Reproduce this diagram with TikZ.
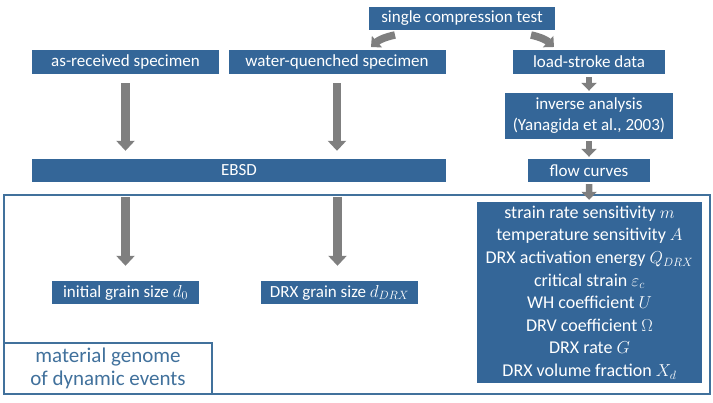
\documentclass[tikz,border=0pt]{standalone}
\usepackage{amsmath,amssymb}
\usepackage{fontspec}
\setmainfont{Carlito}
\usepackage{tikz}
\usetikzlibrary{positioning}
\usetikzlibrary{calc}
\usetikzlibrary{arrows.meta}
\definecolor{boxblue}{RGB}{52,102,152}
\definecolor{lineblue}{RGB}{65,113,156}
\definecolor{arrowgray}{RGB}{127,127,127}

\begin{document}
\begin{tikzpicture}[x=1pt, y=-1pt,
    font=\fontsize{17}{20}\selectfont,
    bluebox/.style={fill=boxblue, text=white, inner sep=0pt, align=center},
    bigarrow/.style={draw=arrowgray, line width=8.5pt,
        -{Triangle[width=18pt,length=10pt]}},
    smallarrow/.style={draw=arrowgray, line width=6.5pt,
        -{Triangle[width=15pt,length=8pt]}}]
    \useasboundingbox (0,0) rectangle (713,403);

    % outer frame of the genome
    \draw[lineblue, line width=1.6pt] (4,195) rectangle (710,394);

    \node[bluebox, minimum width=186pt, minimum height=23pt]
        (test) at (462,18.5) {single compression test};

    \node[bluebox, minimum width=187pt, minimum height=24pt]
        (asrec) at (125.5,62) {as-received specimen};
    \node[bluebox, minimum width=217pt, minimum height=24pt]
        (waterq) at (337,62) {water-quenched specimen};
    \node[bluebox, minimum width=152pt, minimum height=24pt]
        (load) at (589,62) {load-stroke data};

    \node[bluebox, minimum width=168pt, minimum height=46pt,
        font=\fontsize{17}{21}\selectfont]
        (inverse) at (589,116) {inverse analysis\\(Yanagida et al., 2003)};

    \node[bluebox, minimum width=414pt, minimum height=23pt]
        (ebsd) at (239,170.5) {EBSD};
    \node[bluebox, minimum width=122pt, minimum height=23pt]
        (flow) at (589,170.5) {flow curves};

    \node[bluebox, minimum width=147pt, minimum height=23pt]
        (dzero) at (125.5,292.5) {initial grain size $d_0$};
    \node[bluebox, minimum width=157pt, minimum height=23pt]
        (ddrx) at (339.5,292.5) {DRX grain size $d_{DRX}$};

    \node[bluebox, minimum width=225pt, minimum height=181pt,
        font=\fontsize{18}{22.6}\selectfont]
        (params) at (589.5,292.5) {strain rate sensitivity $m$\\
        temperature sensitivity $A$\\
        DRX activation energy $Q_{DRX}$\\
        critical strain $\varepsilon_c$\\
        WH coefficient $U$\\
        DRV coefficient $\Omega$\\
        DRX rate $G$\\
        DRX volume fraction $X_d$};

    \node[draw=lineblue, line width=1.6pt, fill=white, text=lineblue,
        align=center, inner sep=0pt, minimum width=208pt, minimum height=51pt,
        font=\fontsize{21}{23}\selectfont]
        (genome) at (108,368.5) {material genome\\of dynamic events};

    % arrows
    \coordinate (L1) at (395,35);
    \coordinate (L2) at (371,47);
    \coordinate (R1) at (531,35);
    \coordinate (R2) at (554,47);
    \draw[smallarrow, line width=7.5pt] (L1) to[bend right=15] (L2);
    \draw[smallarrow, line width=7.5pt] (R1) to[bend left=15] (R2);

    \draw[bigarrow, shorten <=9pt, shorten >=8pt] (asrec) -- (asrec |- ebsd.north);
    \draw[bigarrow, shorten <=9pt, shorten >=8pt] (waterq) -- (waterq |- ebsd.north);
    \draw[bigarrow, shorten <=15pt, shorten >=15pt] (dzero |- ebsd.south) -- (dzero.north);
    \draw[bigarrow, shorten <=15pt, shorten >=15pt] ([xshift=-2pt]ddrx |- ebsd.south) -- ([xshift=-2pt]ddrx.north);

    \draw[smallarrow, shorten <=3pt, shorten >=2pt] (load) -- (inverse);
    \draw[smallarrow, shorten <=2pt, shorten >=2pt] (inverse) -- (flow);
    \draw[smallarrow, shorten <=2pt, shorten >=2pt] (flow) -- (params);
\end{tikzpicture}
\end{document}
